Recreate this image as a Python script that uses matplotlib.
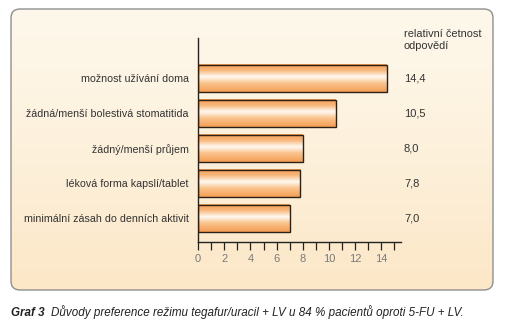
import numpy as np
import matplotlib.pyplot as plt
from matplotlib.patches import FancyBboxPatch
from matplotlib.colors import LinearSegmentedColormap
from matplotlib.transforms import blended_transform_factory

# data
reasons = ["možnost užívání doma",
           "žádná/menší bolestivá stomatitida",
           "žádný/menší průjem",
           "léková forma kapslí/tablet",
           "minimální zásah do denních aktivit"]
freq = [14.4, 10.5, 8.0, 7.8, 7.0]
freq_labels = ["14,4", "10,5", "8,0", "7,8", "7,0"]
xticks_major = [0, 2, 4, 6, 8, 10, 12, 14]

W, H = 512, 326
plt.rcParams['font.family'] = ['Liberation Sans', 'DejaVu Sans']
fig = plt.figure(figsize=(W / 100, H / 100), dpi=100)

# background panel with vertical gradient and rounded border
bg = fig.add_axes([0, 0, 1, 1])
bg.set_xlim(0, W)
bg.set_ylim(H, 0)
bg.axis('off')
px0, py0, px1, py1 = 11, 9, 493, 290
panel = FancyBboxPatch((px0, py0), px1 - px0, py1 - py0,
                       boxstyle="round,pad=0,rounding_size=9",
                       facecolor='none', edgecolor='#8f8f8f', linewidth=1.0, zorder=3)
bg.add_patch(panel)
grad_bg = np.linspace(0, 1, 256).reshape(-1, 1)
cmap_bg = LinearSegmentedColormap.from_list('bg', ['#fef8ec', '#fdf1dc', '#fce7c7'])
im = bg.imshow(grad_bg, cmap=cmap_bg, extent=(px0, px1, py1, py0), aspect='auto', zorder=1)
im.set_clip_path(panel)

# caption
fig.text(11 / W, 1 - 316 / H, "Graf 3", fontsize=8.4, fontweight='bold', style='italic',
         color='#222222', va='baseline', ha='left')
fig.text(51 / W, 1 - 316 / H,
         "Důvody preference režimu tegafur/uracil + LV u 84 % pacientů oproti 5-FU + LV.",
         fontsize=8.4, style='italic', color='#222222', va='baseline', ha='left')

# main axes: x=0 at px 198, 13.1 px per unit
x0_px, ppu = 198, 13.1
xmax = 15.5
y_top, y_bot = 38, 242
ax = fig.add_axes([x0_px / W, 1 - y_bot / H, xmax * ppu / W, (y_bot - y_top) / H])
ax.patch.set_alpha(0)
pos = np.arange(len(reasons))
bars = ax.barh(pos, freq, height=0.77, facecolor='none', edgecolor='#2a2118',
               linewidth=1.0, zorder=3)

cmap_bar = LinearSegmentedColormap.from_list(
    'bar', [(0, '#f59c50'), (0.22, '#f8b87c'), (0.45, '#fffaf3'),
            (0.68, '#fac48e'), (1, '#f59d52')])
grad = np.linspace(0, 1, 128).reshape(-1, 1)
for b in bars:
    x, y, w, h = b.get_x(), b.get_y(), b.get_width(), b.get_height()
    ax.imshow(grad, cmap=cmap_bar, extent=(x, x + w, y + h, y), aspect='auto', zorder=2)
ax.set_xlim(0, xmax)
ax.set_ylim(4.67, -1.14)

for s in ['top', 'right']:
    ax.spines[s].set_visible(False)
for s in ['left', 'bottom']:
    ax.spines[s].set_color('#222222')
    ax.spines[s].set_linewidth(1.0)

ax.set_xticks(xticks_major)
ax.set_xticks(range(16), minor=True)
ax.tick_params(axis='x', which='both', direction='out', length=6, width=0.9,
               color='#222222', labelsize=8, labelcolor='#7a7a7a', pad=3)
ax.tick_params(axis='y', length=0, labelsize=7.7, labelcolor='#333333', pad=6.5)
ax.set_yticks(pos)
ax.set_yticklabels(reasons)

# value column on the right
val_tr = blended_transform_factory(fig.transFigure, ax.transData)
for p, lab in zip(pos, freq_labels):
    ax.text(404 / W, p, lab, transform=val_tr,
            fontsize=8, color='#333333', va='center', ha='left')
fig.text(404 / W, 1 - 40 / H, "relativní četnost\nodpovědí", fontsize=7.9, color='#333333',
         va='center', ha='left', linespacing=1.2)

fig.savefig('out.png', dpi=100)
